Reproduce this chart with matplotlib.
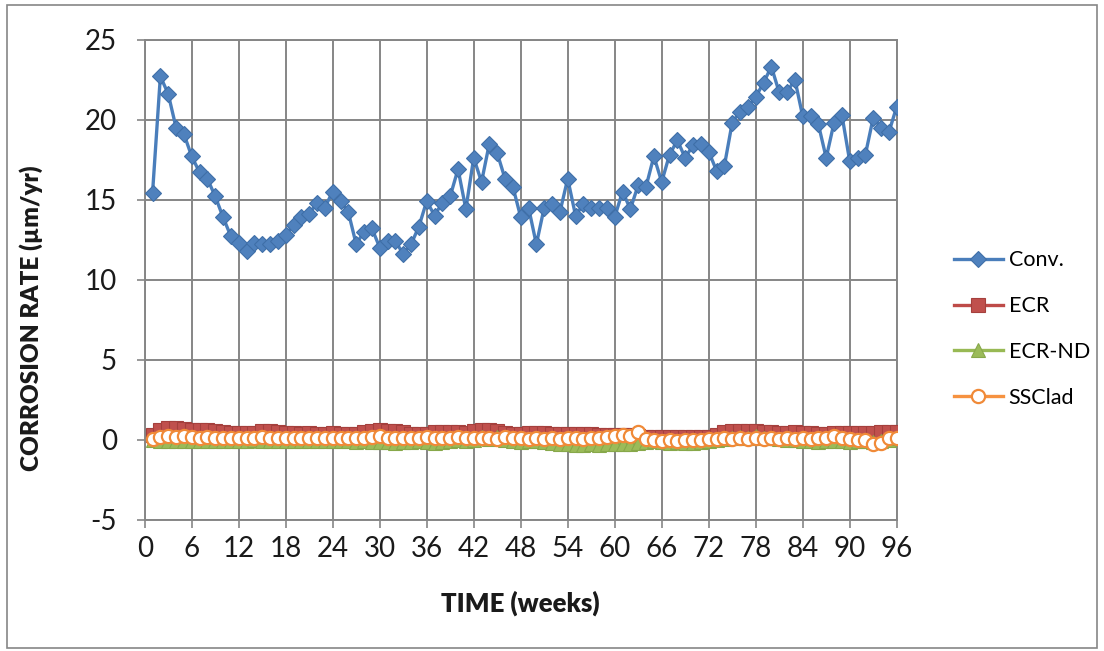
import matplotlib
matplotlib.use("Agg")
import matplotlib.pyplot as plt
from matplotlib.patches import Rectangle

plt.rcParams["axes.unicode_minus"] = False

weeks = list(range(1, 97))

conv = [15.4, 22.7, 21.6, 19.5, 19.1, 17.7, 16.7, 16.3, 15.2, 13.9, 12.7, 12.3,
        11.8, 12.3, 12.2, 12.2, 12.4, 12.8, 13.4, 13.9, 14.1, 14.8, 14.5, 15.5,
        14.9, 14.2, 12.2, 13.0, 13.2, 12.0, 12.4, 12.4, 11.6, 12.2, 13.3, 14.9,
        14.0, 14.8, 15.2, 16.9, 14.4, 17.6, 16.1, 18.5, 17.9, 16.3, 15.8, 13.9,
        14.5, 12.2, 14.5, 14.7, 14.2, 16.3, 14.0, 14.7, 14.5, 14.5, 14.5, 13.9,
        15.5, 14.4, 15.9, 15.8, 17.7, 16.1, 17.8, 18.7, 17.6, 18.4, 18.5, 18.0,
        16.8, 17.1, 19.8, 20.5, 20.8, 21.4, 22.3, 23.3, 21.7, 21.7, 22.5, 20.2,
        20.2, 19.7, 17.6, 19.8, 20.3, 17.4, 17.6, 17.8, 20.1, 19.5, 19.2, 20.8]

ecr = [0.30, 0.60, 0.70, 0.70, 0.65, 0.62, 0.60, 0.58, 0.56, 0.50, 0.42, 0.42,
       0.40, 0.42, 0.52, 0.53, 0.45, 0.38, 0.38, 0.37, 0.38, 0.36, 0.37, 0.38,
       0.36, 0.37, 0.35, 0.50, 0.56, 0.58, 0.56, 0.55, 0.45, 0.36, 0.35, 0.36,
       0.47, 0.49, 0.50, 0.47, 0.42, 0.54, 0.57, 0.58, 0.55, 0.40, 0.37, 0.36,
       0.38, 0.40, 0.38, 0.35, 0.33, 0.33, 0.32, 0.33, 0.32, 0.31, 0.30, 0.28,
       0.30, 0.27, 0.22, 0.18, 0.15, 0.14, 0.14, 0.13, 0.14, 0.15, 0.15, 0.17,
       0.30, 0.47, 0.52, 0.53, 0.52, 0.53, 0.50, 0.48, 0.43, 0.42, 0.44, 0.40,
       0.38, 0.37, 0.36, 0.38, 0.40, 0.42, 0.40, 0.41, 0.43, 0.44, 0.46, 0.45]

ecr_nd = [-0.05, -0.10, -0.10, -0.08, -0.10, -0.12, -0.10, -0.08, -0.10, -0.12, -0.10, -0.08,
          -0.10, -0.05, -0.08, -0.10, -0.12, -0.10, -0.12, -0.10, -0.12, -0.10, -0.08, -0.10,
          -0.10, -0.12, -0.15, -0.12, -0.15, -0.18, -0.15, -0.20, -0.18, -0.15, -0.12, -0.15,
          -0.20, -0.18, -0.12, -0.05, -0.10, -0.05, 0.15, 0.05, 0.18, -0.05, -0.10, -0.15,
          -0.10, -0.12, -0.15, -0.20, -0.25, -0.30, -0.32, -0.35, -0.30, -0.32, -0.28, -0.30,
          -0.25, -0.30, -0.20, -0.15, -0.12, -0.15, -0.20, -0.18, -0.22, -0.20, -0.18, -0.12,
          -0.05, 0.05, 0.10, 0.15, 0.12, 0.20, 0.12, 0.08, 0.05, 0.00, -0.05, -0.10,
          -0.12, -0.15, -0.10, -0.12, -0.10, -0.15, -0.10, -0.12, -0.15, -0.10, -0.05, 0.10]

ssclad = [0.05, 0.15, 0.20, 0.15, 0.25, 0.15, 0.12, 0.15, 0.12, 0.12, 0.10, 0.12,
          0.10, 0.12, 0.18, 0.12, 0.10, 0.12, 0.10, 0.12, 0.10, 0.12, 0.10, 0.12,
          0.10, 0.12, 0.10, 0.08, 0.18, 0.22, 0.10, 0.08, 0.10, 0.12, 0.10, 0.15,
          0.12, 0.10, 0.12, 0.15, 0.10, 0.12, 0.08, 0.10, 0.05, 0.15, 0.12, 0.10,
          0.05, 0.08, 0.05, 0.10, 0.05, 0.08, 0.10, 0.05, 0.08, 0.10, 0.15, 0.22,
          0.30, 0.25, 0.45, 0.05, -0.05, -0.08, -0.05, -0.08, -0.05, -0.02, 0.00, 0.02,
          0.05, 0.08, 0.05, 0.10, 0.05, 0.08, 0.05, 0.08, 0.05, 0.08, 0.05, 0.10,
          0.05, 0.08, 0.10, 0.25, 0.10, 0.05, 0.00, -0.05, -0.25, -0.22, 0.10, 0.12]

x_ticks = list(range(0, 97, 6))
y_ticks = list(range(-5, 26, 5))

FONT = "Lato"
GRID = "#868686"
TEXT = "#1a1a1a"

fig = plt.figure(figsize=(11.04, 6.51), dpi=100)
fig.patch.set_facecolor("white")
fig.patches.append(Rectangle((7 / 1104, 1 - 648 / 651), 1090 / 1104, 643 / 651,
                             transform=fig.transFigure, fill=False,
                             edgecolor=GRID, linewidth=1.2))

ax = fig.add_axes([144.7 / 1104, 1 - 519.5 / 651, 752 / 1104, 480 / 651])

ax.plot(weeks, conv, color="#4A7EBB", lw=2.4, marker="D", ms=8.5,
        mfc="#4F81BD", mec="#3F6FA8", mew=0.8, label="Conv.", zorder=3)
ax.plot(weeks, ecr, color="#BE4B48", lw=2.4, marker="s", ms=9.5,
        mfc="#C0504D", mec="#A5403D", mew=0.8, label="ECR", zorder=4)
ax.plot(weeks, ecr_nd, color="#98B954", lw=2.4, marker="^", ms=9.5,
        mfc="#9BBB59", mec="#87A84A", mew=0.8, label="ECR-ND", zorder=5)
ax.plot(weeks, ssclad, color="#F69240", lw=2.4, marker="o", ms=9.5,
        mfc="white", mec="#F08A38", mew=1.6, label="SSClad", zorder=6)

ax.set_xlim(0, 96)
ax.set_ylim(-5, 25)
ax.set_xticks(x_ticks)
ax.set_yticks(y_ticks)
ax.grid(True, color=GRID, lw=1.4)
ax.set_axisbelow(True)
for s in ax.spines.values():
    s.set_color(GRID)
    s.set_linewidth(1.4)
ax.tick_params(axis="both", direction="out", length=6, width=1.2, color=GRID,
               labelsize=20)
ax.tick_params(axis="y", pad=14)
ax.tick_params(axis="x", pad=6)
for lab in ax.get_xticklabels() + ax.get_yticklabels():
    lab.set_fontfamily(FONT)
    lab.set_color(TEXT)

ax.set_xlabel("TIME (weeks)", fontsize=18.5, fontweight="heavy", family=FONT,
              color=TEXT)
ax.xaxis.set_label_coords(0.5, -(603 - 519.5) / 480, transform=ax.transAxes)
ax.set_ylabel("CORROSION RATE (µm/yr)", fontsize=17.5, fontweight="heavy",
              family=FONT, color=TEXT)
ax.yaxis.set_label_coords(-(144.7 - 31) / 752, (519.5 - 318) / 480,
                          transform=ax.transAxes)
ax.xaxis.label.set_va("center")
ax.yaxis.label.set_va("center")

leg = ax.legend(loc="center left", bbox_to_anchor=(945 / 1104, 1 - 329 / 651),
                bbox_transform=fig.transFigure, frameon=False,
                prop={"family": FONT, "size": 15.5}, handlelength=2.3,
                handletextpad=0.25, labelspacing=1.2, borderaxespad=0)

fig.savefig("out.png", dpi=100, facecolor="white")
